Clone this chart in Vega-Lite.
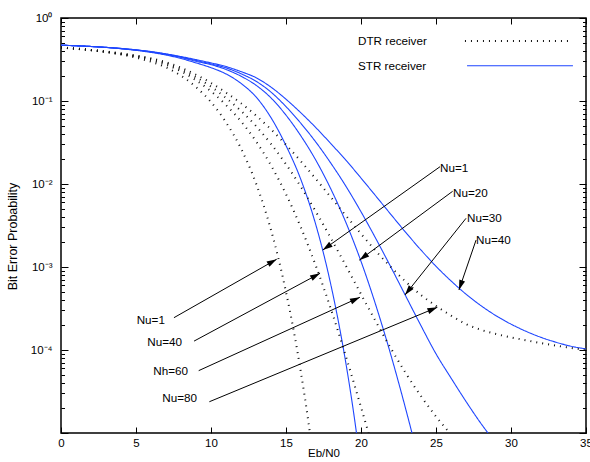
{
  "$schema": "https://vega.github.io/schema/vega-lite/v6.json",
  "width": 525,
  "height": 415,
  "autosize": {"type": "none"},
  "padding": {"left": 61, "top": 18, "right": 4, "bottom": 29},
  "background": "#ffffff",
  "config": {
    "view": {"stroke": "#000000", "strokeWidth": 1.5},
    "font": "Liberation Sans",
    "axis": {"domain": false, "grid": false, "labelFont": "Liberation Sans", "labelFontSize": 11.5, "labelColor": "#000000", "tickColor": "#000000", "tickWidth": 1, "titleFont": "Liberation Sans", "titleFontSize": 11.5, "titleFontWeight": "normal", "titleColor": "#000000", "labelFlush": false, "labelOverlap": false}
  },
  "datasets": {
    "curves": [
      {"curve":"B1","rx":"STR","ebn0":0,"ber":0.47},{"curve":"B1","rx":"STR","ebn0":2,"ber":0.453},{"curve":"B1","rx":"STR","ebn0":4,"ber":0.426},{"curve":"B1","rx":"STR","ebn0":6,"ber":0.385},{"curve":"B1","rx":"STR","ebn0":7,"ber":0.358},{"curve":"B1","rx":"STR","ebn0":8,"ber":0.325},{"curve":"B1","rx":"STR","ebn0":9,"ber":0.288},{"curve":"B1","rx":"STR","ebn0":10,"ber":0.252},{"curve":"B1","rx":"STR","ebn0":11,"ber":0.212},{"curve":"B1","rx":"STR","ebn0":12,"ber":0.163},{"curve":"B1","rx":"STR","ebn0":13,"ber":0.112},{"curve":"B1","rx":"STR","ebn0":14,"ber":0.063},{"curve":"B1","rx":"STR","ebn0":15,"ber":0.029},{"curve":"B1","rx":"STR","ebn0":16,"ber":0.0112},{"curve":"B1","rx":"STR","ebn0":17,"ber":0.00317},{"curve":"B1","rx":"STR","ebn0":17.5,"ber":0.00146},{"curve":"B1","rx":"STR","ebn0":18,"ber":0.0006},{"curve":"B1","rx":"STR","ebn0":18.5,"ber":0.000217},{"curve":"B1","rx":"STR","ebn0":19,"ber":0.000068},{"curve":"B1","rx":"STR","ebn0":19.5,"ber":0.000018},{"curve":"B1","rx":"STR","ebn0":20,"ber":0.0000039},
      {"curve":"B2","rx":"STR","ebn0":0,"ber":0.47},{"curve":"B2","rx":"STR","ebn0":2,"ber":0.454},{"curve":"B2","rx":"STR","ebn0":4,"ber":0.428},{"curve":"B2","rx":"STR","ebn0":6,"ber":0.39},{"curve":"B2","rx":"STR","ebn0":8,"ber":0.335},{"curve":"B2","rx":"STR","ebn0":9,"ber":0.301},{"curve":"B2","rx":"STR","ebn0":10,"ber":0.274},{"curve":"B2","rx":"STR","ebn0":11,"ber":0.24},{"curve":"B2","rx":"STR","ebn0":12,"ber":0.199},{"curve":"B2","rx":"STR","ebn0":13,"ber":0.155},{"curve":"B2","rx":"STR","ebn0":14,"ber":0.109},{"curve":"B2","rx":"STR","ebn0":15,"ber":0.0675},{"curve":"B2","rx":"STR","ebn0":16,"ber":0.0378},{"curve":"B2","rx":"STR","ebn0":17,"ber":0.0192},{"curve":"B2","rx":"STR","ebn0":18,"ber":0.00863},{"curve":"B2","rx":"STR","ebn0":19,"ber":0.00342},{"curve":"B2","rx":"STR","ebn0":20,"ber":0.00117},{"curve":"B2","rx":"STR","ebn0":21,"ber":0.000341},{"curve":"B2","rx":"STR","ebn0":22,"ber":0.000086},{"curve":"B2","rx":"STR","ebn0":23,"ber":0.0000189},{"curve":"B2","rx":"STR","ebn0":23.5,"ber":0.0000085},
      {"curve":"B3","rx":"STR","ebn0":0,"ber":0.47},{"curve":"B3","rx":"STR","ebn0":2,"ber":0.454},{"curve":"B3","rx":"STR","ebn0":4,"ber":0.429},{"curve":"B3","rx":"STR","ebn0":6,"ber":0.392},{"curve":"B3","rx":"STR","ebn0":8,"ber":0.339},{"curve":"B3","rx":"STR","ebn0":9,"ber":0.308},{"curve":"B3","rx":"STR","ebn0":10,"ber":0.28},{"curve":"B3","rx":"STR","ebn0":11,"ber":0.251},{"curve":"B3","rx":"STR","ebn0":12,"ber":0.213},{"curve":"B3","rx":"STR","ebn0":13,"ber":0.173},{"curve":"B3","rx":"STR","ebn0":14,"ber":0.128},{"curve":"B3","rx":"STR","ebn0":15,"ber":0.0856},{"curve":"B3","rx":"STR","ebn0":16,"ber":0.0536},{"curve":"B3","rx":"STR","ebn0":17,"ber":0.0318},{"curve":"B3","rx":"STR","ebn0":18,"ber":0.0177},{"curve":"B3","rx":"STR","ebn0":19,"ber":0.00936},{"curve":"B3","rx":"STR","ebn0":20,"ber":0.00463},{"curve":"B3","rx":"STR","ebn0":21,"ber":0.00218},{"curve":"B3","rx":"STR","ebn0":22,"ber":0.00099},{"curve":"B3","rx":"STR","ebn0":23,"ber":0.00044},{"curve":"B3","rx":"STR","ebn0":24,"ber":0.000196},{"curve":"B3","rx":"STR","ebn0":25,"ber":0.00009},{"curve":"B3","rx":"STR","ebn0":26,"ber":0.000046},{"curve":"B3","rx":"STR","ebn0":27,"ber":0.000024},{"curve":"B3","rx":"STR","ebn0":28,"ber":0.000013},{"curve":"B3","rx":"STR","ebn0":29,"ber":0.0000075},
      {"curve":"B4","rx":"STR","ebn0":0,"ber":0.471},{"curve":"B4","rx":"STR","ebn0":2,"ber":0.454},{"curve":"B4","rx":"STR","ebn0":4,"ber":0.43},{"curve":"B4","rx":"STR","ebn0":6,"ber":0.394},{"curve":"B4","rx":"STR","ebn0":8,"ber":0.343},{"curve":"B4","rx":"STR","ebn0":9,"ber":0.315},{"curve":"B4","rx":"STR","ebn0":10,"ber":0.288},{"curve":"B4","rx":"STR","ebn0":11,"ber":0.26},{"curve":"B4","rx":"STR","ebn0":12,"ber":0.226},{"curve":"B4","rx":"STR","ebn0":13,"ber":0.191},{"curve":"B4","rx":"STR","ebn0":14,"ber":0.147},{"curve":"B4","rx":"STR","ebn0":15,"ber":0.105},{"curve":"B4","rx":"STR","ebn0":16,"ber":0.0718},{"curve":"B4","rx":"STR","ebn0":17,"ber":0.0476},{"curve":"B4","rx":"STR","ebn0":18,"ber":0.0305},{"curve":"B4","rx":"STR","ebn0":19,"ber":0.0193},{"curve":"B4","rx":"STR","ebn0":20,"ber":0.0118},{"curve":"B4","rx":"STR","ebn0":21,"ber":0.00712},{"curve":"B4","rx":"STR","ebn0":22,"ber":0.00428},{"curve":"B4","rx":"STR","ebn0":23,"ber":0.00259},{"curve":"B4","rx":"STR","ebn0":24,"ber":0.0016},{"curve":"B4","rx":"STR","ebn0":25,"ber":0.00102},{"curve":"B4","rx":"STR","ebn0":26,"ber":0.00068},{"curve":"B4","rx":"STR","ebn0":27,"ber":0.000471},{"curve":"B4","rx":"STR","ebn0":28,"ber":0.000342},{"curve":"B4","rx":"STR","ebn0":29,"ber":0.000259},{"curve":"B4","rx":"STR","ebn0":30,"ber":0.000205},{"curve":"B4","rx":"STR","ebn0":31,"ber":0.000168},{"curve":"B4","rx":"STR","ebn0":32,"ber":0.000142},{"curve":"B4","rx":"STR","ebn0":33,"ber":0.000124},{"curve":"B4","rx":"STR","ebn0":34,"ber":0.000111},{"curve":"B4","rx":"STR","ebn0":35,"ber":0.000103},
      {"curve":"D1","rx":"DTR","ebn0":0,"ber":0.44},{"curve":"D1","rx":"DTR","ebn0":2,"ber":0.408},{"curve":"D1","rx":"DTR","ebn0":3,"ber":0.388},{"curve":"D1","rx":"DTR","ebn0":4,"ber":0.362},{"curve":"D1","rx":"DTR","ebn0":5,"ber":0.333},{"curve":"D1","rx":"DTR","ebn0":6,"ber":0.297},{"curve":"D1","rx":"DTR","ebn0":7,"ber":0.254},{"curve":"D1","rx":"DTR","ebn0":8,"ber":0.202},{"curve":"D1","rx":"DTR","ebn0":9,"ber":0.147},{"curve":"D1","rx":"DTR","ebn0":10,"ber":0.097},{"curve":"D1","rx":"DTR","ebn0":11,"ber":0.0553},{"curve":"D1","rx":"DTR","ebn0":12,"ber":0.0268},{"curve":"D1","rx":"DTR","ebn0":13,"ber":0.0102},{"curve":"D1","rx":"DTR","ebn0":13.5,"ber":0.00557},{"curve":"D1","rx":"DTR","ebn0":14,"ber":0.00279},{"curve":"D1","rx":"DTR","ebn0":14.5,"ber":0.00126},{"curve":"D1","rx":"DTR","ebn0":15,"ber":0.0005},{"curve":"D1","rx":"DTR","ebn0":15.5,"ber":0.000176},{"curve":"D1","rx":"DTR","ebn0":16,"ber":0.000053},{"curve":"D1","rx":"DTR","ebn0":16.5,"ber":0.0000134},{"curve":"D1","rx":"DTR","ebn0":17,"ber":0.0000028},
      {"curve":"D2","rx":"DTR","ebn0":0,"ber":0.441},{"curve":"D2","rx":"DTR","ebn0":2,"ber":0.411},{"curve":"D2","rx":"DTR","ebn0":3,"ber":0.391},{"curve":"D2","rx":"DTR","ebn0":4,"ber":0.368},{"curve":"D2","rx":"DTR","ebn0":5,"ber":0.342},{"curve":"D2","rx":"DTR","ebn0":6,"ber":0.311},{"curve":"D2","rx":"DTR","ebn0":7,"ber":0.273},{"curve":"D2","rx":"DTR","ebn0":8,"ber":0.228},{"curve":"D2","rx":"DTR","ebn0":9,"ber":0.178},{"curve":"D2","rx":"DTR","ebn0":10,"ber":0.131},{"curve":"D2","rx":"DTR","ebn0":11,"ber":0.0893},{"curve":"D2","rx":"DTR","ebn0":12,"ber":0.0569},{"curve":"D2","rx":"DTR","ebn0":13,"ber":0.0327},{"curve":"D2","rx":"DTR","ebn0":14,"ber":0.01675},{"curve":"D2","rx":"DTR","ebn0":15,"ber":0.00755},{"curve":"D2","rx":"DTR","ebn0":16,"ber":0.00297},{"curve":"D2","rx":"DTR","ebn0":17,"ber":0.00102},{"curve":"D2","rx":"DTR","ebn0":18,"ber":0.000309},{"curve":"D2","rx":"DTR","ebn0":19,"ber":0.000083},{"curve":"D2","rx":"DTR","ebn0":20,"ber":0.0000205},{"curve":"D2","rx":"DTR","ebn0":20.5,"ber":0.00001},{"curve":"D2","rx":"DTR","ebn0":21,"ber":0.0000048},
      {"curve":"D3","rx":"DTR","ebn0":0,"ber":0.442},{"curve":"D3","rx":"DTR","ebn0":2,"ber":0.412},{"curve":"D3","rx":"DTR","ebn0":3,"ber":0.393},{"curve":"D3","rx":"DTR","ebn0":4,"ber":0.372},{"curve":"D3","rx":"DTR","ebn0":5,"ber":0.348},{"curve":"D3","rx":"DTR","ebn0":6,"ber":0.32},{"curve":"D3","rx":"DTR","ebn0":7,"ber":0.285},{"curve":"D3","rx":"DTR","ebn0":8,"ber":0.24},{"curve":"D3","rx":"DTR","ebn0":9,"ber":0.193},{"curve":"D3","rx":"DTR","ebn0":10,"ber":0.149},{"curve":"D3","rx":"DTR","ebn0":11,"ber":0.1087},{"curve":"D3","rx":"DTR","ebn0":12,"ber":0.0761},{"curve":"D3","rx":"DTR","ebn0":13,"ber":0.0499},{"curve":"D3","rx":"DTR","ebn0":14,"ber":0.0304},{"curve":"D3","rx":"DTR","ebn0":15,"ber":0.0173},{"curve":"D3","rx":"DTR","ebn0":16,"ber":0.0092},{"curve":"D3","rx":"DTR","ebn0":17,"ber":0.00461},{"curve":"D3","rx":"DTR","ebn0":18,"ber":0.00221},{"curve":"D3","rx":"DTR","ebn0":19,"ber":0.00103},{"curve":"D3","rx":"DTR","ebn0":20,"ber":0.000471},{"curve":"D3","rx":"DTR","ebn0":21,"ber":0.000218},{"curve":"D3","rx":"DTR","ebn0":22,"ber":0.000104},{"curve":"D3","rx":"DTR","ebn0":23,"ber":0.000052},{"curve":"D3","rx":"DTR","ebn0":24,"ber":0.0000278},{"curve":"D3","rx":"DTR","ebn0":25,"ber":0.0000158},{"curve":"D3","rx":"DTR","ebn0":26,"ber":0.0000095},{"curve":"D3","rx":"DTR","ebn0":27,"ber":0.0000054},
      {"curve":"D4","rx":"DTR","ebn0":0,"ber":0.4425},{"curve":"D4","rx":"DTR","ebn0":2,"ber":0.413},{"curve":"D4","rx":"DTR","ebn0":3,"ber":0.395},{"curve":"D4","rx":"DTR","ebn0":4,"ber":0.375},{"curve":"D4","rx":"DTR","ebn0":5,"ber":0.353},{"curve":"D4","rx":"DTR","ebn0":6,"ber":0.327},{"curve":"D4","rx":"DTR","ebn0":7,"ber":0.293},{"curve":"D4","rx":"DTR","ebn0":8,"ber":0.252},{"curve":"D4","rx":"DTR","ebn0":9,"ber":0.207},{"curve":"D4","rx":"DTR","ebn0":10,"ber":0.165},{"curve":"D4","rx":"DTR","ebn0":11,"ber":0.1262},{"curve":"D4","rx":"DTR","ebn0":12,"ber":0.094},{"curve":"D4","rx":"DTR","ebn0":13,"ber":0.0669},{"curve":"D4","rx":"DTR","ebn0":14,"ber":0.0455},{"curve":"D4","rx":"DTR","ebn0":15,"ber":0.0297},{"curve":"D4","rx":"DTR","ebn0":16,"ber":0.0187},{"curve":"D4","rx":"DTR","ebn0":17,"ber":0.01145},{"curve":"D4","rx":"DTR","ebn0":18,"ber":0.00689},{"curve":"D4","rx":"DTR","ebn0":19,"ber":0.00414},{"curve":"D4","rx":"DTR","ebn0":20,"ber":0.00251},{"curve":"D4","rx":"DTR","ebn0":21,"ber":0.00155},{"curve":"D4","rx":"DTR","ebn0":22,"ber":0.000995},{"curve":"D4","rx":"DTR","ebn0":23,"ber":0.000661},{"curve":"D4","rx":"DTR","ebn0":24,"ber":0.00046},{"curve":"D4","rx":"DTR","ebn0":25,"ber":0.00034},{"curve":"D4","rx":"DTR","ebn0":26,"ber":0.00026},{"curve":"D4","rx":"DTR","ebn0":27,"ber":0.000205},{"curve":"D4","rx":"DTR","ebn0":28,"ber":0.000175},{"curve":"D4","rx":"DTR","ebn0":29,"ber":0.000156},{"curve":"D4","rx":"DTR","ebn0":30,"ber":0.000142},{"curve":"D4","rx":"DTR","ebn0":31,"ber":0.000131},{"curve":"D4","rx":"DTR","ebn0":32,"ber":0.000121},{"curve":"D4","rx":"DTR","ebn0":33,"ber":0.000113},{"curve":"D4","rx":"DTR","ebn0":34,"ber":0.000106},{"curve":"D4","rx":"DTR","ebn0":35,"ber":0.0001}
    ],
    "arrows": [
      {"side":"R","label":"Nu=1","lx":25.27,"ly":0.0156,"x1":25.27,"y1":0.01617,"x2":17.45,"y2":0.0016},
      {"side":"R","label":"Nu=20","lx":26.13,"ly":0.00779,"x1":26.11,"y1":0.00817,"x2":19.89,"y2":0.00121},
      {"side":"R","label":"Nu=30","lx":27.07,"ly":0.0039,"x1":27.0,"y1":0.00386,"x2":22.93,"y2":0.00046},
      {"side":"R","label":"Nu=40","lx":27.67,"ly":0.00211,"x1":27.67,"y1":0.00211,"x2":26.53,"y2":0.000528},
      {"side":"L","label":"Nu=1","lx":6.93,"ly":0.00023,"x1":7.53,"y1":0.000245,"x2":14.38,"y2":0.00124},
      {"side":"L","label":"Nu=40","lx":8.07,"ly":0.000125,"x1":8.87,"y1":0.000128,"x2":17.27,"y2":0.00084},
      {"side":"L","label":"Nh=60","lx":8.47,"ly":0.0000558,"x1":9.18,"y1":0.0000564,"x2":19.93,"y2":0.000432},
      {"side":"L","label":"Nu=80","lx":9.07,"ly":0.0000264,"x1":9.89,"y1":0.0000238,"x2":25.09,"y2":0.000327}
    ],
    "legend": [
      {"rx":"DTR","label":"DTR receiver","tx":19.8,"ty":0.528,"sx1":26.93,"sx2":34.13},
      {"rx":"STR","label":"STR receiver","tx":19.8,"ty":0.266,"sx1":27.07,"sx2":34.13}
    ]
  },
  "layer": [
    {
      "data": {"name": "curves"},
      "mark": {"type": "line", "clip": true, "interpolate": "monotone"},
      "encoding": {
        "x": {"field": "ebn0", "type": "quantitative", "scale": {"domain": [0, 35], "nice": false, "zero": false},
              "axis": {"orient": "bottom", "values": [0,5,10,15,20,25,30,35], "tickSize": -6, "labelPadding": 10, "title": "Eb/N0", "titleY": 14, "titleBaseline": "top"}},
        "y": {"field": "ber", "type": "quantitative", "scale": {"type": "log", "domain": [0.00001, 1], "nice": false},
              "axis": {"orient": "left",
                       "values": [0.00001,0.00002,0.00003,0.00004,0.00005,0.00006,0.00007,0.00008,0.00009,0.0001,0.0002,0.0003,0.0004,0.0005,0.0006,0.0007,0.0008,0.0009,0.001,0.002,0.003,0.004,0.005,0.006,0.007,0.008,0.009,0.01,0.02,0.03,0.04,0.05,0.06,0.07,0.08,0.09,0.1,0.2,0.3,0.4,0.5,0.6,0.7,0.8,0.9,1],
                       "tickSize": {"condition": {"test": "abs(log(datum.value)/LN10 - round(log(datum.value)/LN10)) < 0.001", "value": -7}, "value": -3.5},
                       "labelPadding": 16,
                       "labelExpr": "abs(log(datum.value)/LN10 - round(log(datum.value)/LN10)) > 0.001 ? '' : round(log(datum.value)/LN10) == 0 ? '10⁰' : round(log(datum.value)/LN10) == -1 ? '10⁻¹' : round(log(datum.value)/LN10) == -2 ? '10⁻²' : round(log(datum.value)/LN10) == -3 ? '10⁻³' : round(log(datum.value)/LN10) == -4 ? '10⁻⁴' : ''",
                       "title": "Bit Error Probability", "titleX": -42, "titleY": 218, "titleBaseline": "bottom", "titleFontSize": 12.5}},
        "detail": {"field": "curve"},
        "color": {"field": "rx", "type": "nominal", "scale": {"domain": ["DTR", "STR"], "range": ["#111111", "#1e46ff"]}, "legend": null},
        "strokeDash": {"field": "rx", "type": "nominal", "scale": {"domain": ["DTR", "STR"], "range": [[1, 5], [1, 0]]}, "legend": null},
        "strokeWidth": {"field": "rx", "type": "nominal", "scale": {"domain": ["DTR", "STR"], "range": [2, 1.1]}, "legend": null}
      }
    },
    {
      "data": {"name": "curves"},
      "mark": {"type": "point", "opacity": 0},
      "encoding": {
        "x": {"field": "ebn0", "type": "quantitative", "scale": {"domain": [0, 35], "nice": false, "zero": false},
              "axis": {"orient": "top", "values": [0,5,10,15,20,25,30,35], "tickSize": -6, "labels": false, "title": null}},
        "y": {"field": "ber", "type": "quantitative", "scale": {"type": "log", "domain": [0.00001, 1], "nice": false},
              "axis": {"orient": "right",
                       "values": [0.00001,0.00002,0.00003,0.00004,0.00005,0.00006,0.00007,0.00008,0.00009,0.0001,0.0002,0.0003,0.0004,0.0005,0.0006,0.0007,0.0008,0.0009,0.001,0.002,0.003,0.004,0.005,0.006,0.007,0.008,0.009,0.01,0.02,0.03,0.04,0.05,0.06,0.07,0.08,0.09,0.1,0.2,0.3,0.4,0.5,0.6,0.7,0.8,0.9,1],
                       "tickSize": {"condition": {"test": "abs(log(datum.value)/LN10 - round(log(datum.value)/LN10)) < 0.001", "value": -7}, "value": -3.5},
                       "labels": false, "title": null}}
      }
    },
    {
      "data": {"name": "legend"},
      "mark": {"type": "text", "align": "left", "baseline": "middle", "fontSize": 11.7, "font": "Liberation Sans", "color": "#000000"},
      "encoding": {
        "x": {"field": "tx", "type": "quantitative", "scale": {"domain": [0, 35], "nice": false, "zero": false}, "axis": null},
        "y": {"field": "ty", "type": "quantitative", "scale": {"type": "log", "domain": [0.00001, 1], "nice": false}, "axis": null},
        "text": {"field": "label"}
      }
    },
    {
      "data": {"name": "legend"},
      "mark": {"type": "rule"},
      "encoding": {
        "x": {"field": "sx1", "type": "quantitative", "scale": {"domain": [0, 35], "nice": false, "zero": false}, "axis": null},
        "x2": {"field": "sx2"},
        "y": {"field": "ty", "type": "quantitative", "scale": {"type": "log", "domain": [0.00001, 1], "nice": false}, "axis": null},
        "color": {"field": "rx", "type": "nominal", "scale": {"domain": ["DTR", "STR"], "range": ["#111111", "#1e46ff"]}, "legend": null},
        "strokeDash": {"field": "rx", "type": "nominal", "scale": {"domain": ["DTR", "STR"], "range": [[1, 5], [1, 0]]}, "legend": null},
        "strokeWidth": {"field": "rx", "type": "nominal", "scale": {"domain": ["DTR", "STR"], "range": [2, 1.1]}, "legend": null}
      }
    },
    {
      "data": {"name": "arrows"},
      "mark": {"type": "rule", "color": "#000000", "strokeWidth": 1},
      "encoding": {
        "x": {"field": "x1", "type": "quantitative", "scale": {"domain": [0, 35], "nice": false, "zero": false}, "axis": null},
        "y": {"field": "y1", "type": "quantitative", "scale": {"type": "log", "domain": [0.00001, 1], "nice": false}, "axis": null},
        "x2": {"field": "x2"},
        "y2": {"field": "y2"}
      }
    },
    {
      "data": {"name": "arrows"},
      "transform": [{"calculate": "atan2((datum.x2 - datum.x1) * 15, (log(datum.y2) - log(datum.y1)) / LN10 * 83) * 180 / PI", "as": "ang"}],
      "mark": {"type": "point", "shape": "M0,0L-0.3,1L0.3,1Z", "filled": true, "color": "#000000", "opacity": 1, "size": 400},
      "encoding": {
        "x": {"field": "x2", "type": "quantitative", "scale": {"domain": [0, 35], "nice": false, "zero": false}, "axis": null},
        "y": {"field": "y2", "type": "quantitative", "scale": {"type": "log", "domain": [0.00001, 1], "nice": false}, "axis": null},
        "angle": {"field": "ang", "type": "quantitative", "scale": null}
      }
    },
    {
      "data": {"name": "arrows"},
      "transform": [{"filter": "datum.side == 'L'"}],
      "mark": {"type": "text", "align": "right", "baseline": "middle", "fontSize": 11.7, "font": "Liberation Sans", "color": "#000000"},
      "encoding": {
        "x": {"field": "lx", "type": "quantitative", "scale": {"domain": [0, 35], "nice": false, "zero": false}, "axis": null},
        "y": {"field": "ly", "type": "quantitative", "scale": {"type": "log", "domain": [0.00001, 1], "nice": false}, "axis": null},
        "text": {"field": "label"}
      }
    },
    {
      "data": {"name": "arrows"},
      "transform": [{"filter": "datum.side == 'R'"}],
      "mark": {"type": "text", "align": "left", "baseline": "middle", "fontSize": 11.7, "font": "Liberation Sans", "color": "#000000"},
      "encoding": {
        "x": {"field": "lx", "type": "quantitative", "scale": {"domain": [0, 35], "nice": false, "zero": false}, "axis": null},
        "y": {"field": "ly", "type": "quantitative", "scale": {"type": "log", "domain": [0.00001, 1], "nice": false}, "axis": null},
        "text": {"field": "label"}
      }
    }
  ],
  "resolve": {"axis": {"x": "independent", "y": "independent"}}
}
